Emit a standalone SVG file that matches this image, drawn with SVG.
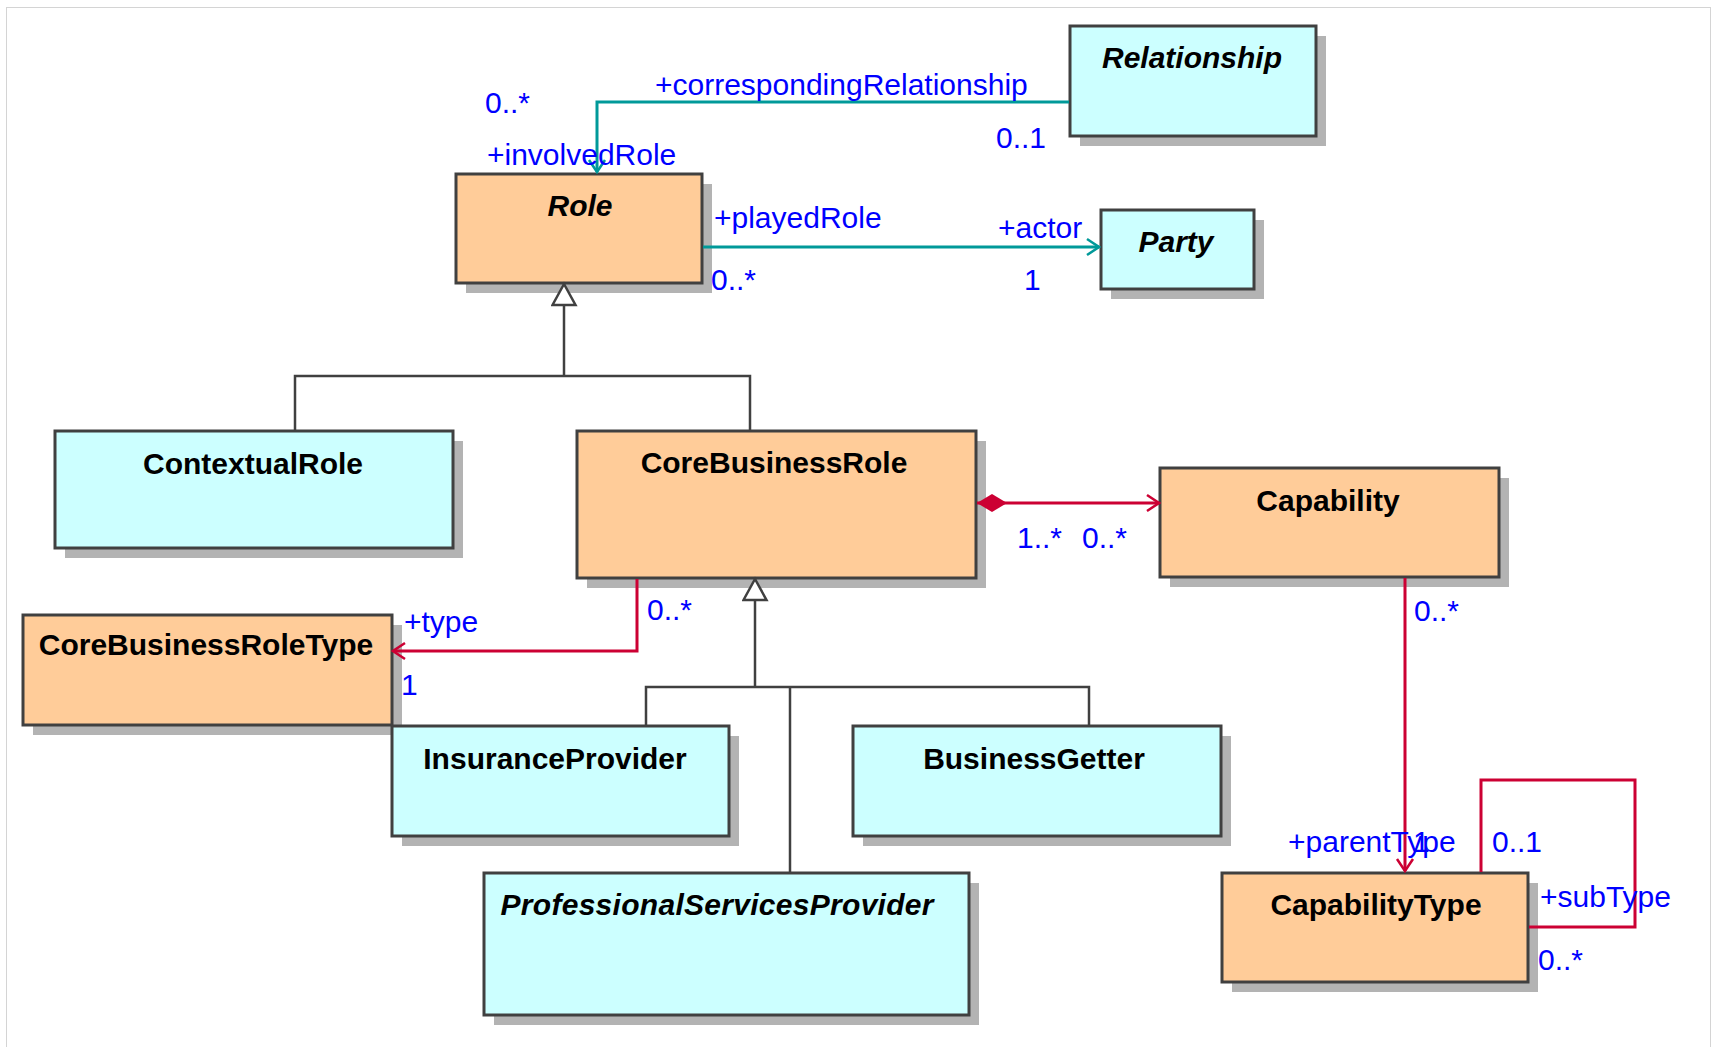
<svg xmlns="http://www.w3.org/2000/svg" width="1715" height="1047" viewBox="0 0 1715 1047">
  <style>
    .shadow { fill: #b3b3b3; }
    .box { stroke: #404040; stroke-width: 3; }
    .orange { fill: #ffcc99; }
    .cyan { fill: #ccffff; }
    .name { font-family: "Liberation Sans", Arial, sans-serif; font-size: 30px; font-weight: bold; fill: #000; text-anchor: middle; }
    .abstract { font-style: italic; }
    .lbl { font-family: "Liberation Sans", Arial, sans-serif; font-size: 30px; fill: #0000ff; }
    .teal { fill: none; stroke: #009999; stroke-width: 3; }
    .red { fill: none; stroke: #cc0033; stroke-width: 3; }
    .gen { fill: none; stroke: #404040; stroke-width: 2.5; }
  </style>
  <defs>
    <marker id="arrowTeal" viewBox="-2 -2 16 20" refX="12" refY="8" markerWidth="16" markerHeight="20" markerUnits="userSpaceOnUse" orient="auto">
      <path d="M0,0 L12,8 L0,16" fill="none" stroke="#009999" stroke-width="2.5"/>
    </marker>
    <marker id="arrowRed" viewBox="-2 -2 16 20" refX="12" refY="8" markerWidth="16" markerHeight="20" markerUnits="userSpaceOnUse" orient="auto">
      <path d="M0,0 L12,8 L0,16" fill="none" stroke="#cc0033" stroke-width="2.5"/>
    </marker>
    <marker id="diamond" viewBox="0 0 30 18" refX="0" refY="9" markerWidth="30" markerHeight="18" markerUnits="userSpaceOnUse" orient="auto">
      <path d="M0,9 L15,0 L30,9 L15,18 Z" fill="#cc0033"/>
    </marker>
    <marker id="genTri" viewBox="-2 -2 26 27" refX="21" refY="11.5" markerWidth="26" markerHeight="27" markerUnits="userSpaceOnUse" orient="auto">
      <path d="M0,0 L21,11.5 L0,23 Z" fill="#ffffff" stroke="#404040" stroke-width="2.5"/>
    </marker>
  </defs>

  <rect x="0" y="0" width="1715" height="1047" fill="#ffffff"/>
  <rect x="6.5" y="7.5" width="1704" height="1060" fill="none" stroke="#d4d4d4" stroke-width="1"/>

  <g id="Relationship">
    <rect class="shadow" x="1080" y="36" width="246" height="110"/>
    <rect class="box cyan" x="1070" y="26" width="246" height="110"/>
    <text class="name abstract" x="1192" y="68">Relationship</text>
  </g>
  <g id="Role">
    <rect class="shadow" x="466" y="184" width="246" height="109"/>
    <rect class="box orange" x="456" y="174" width="246" height="109"/>
    <text class="name abstract" x="580" y="216">Role</text>
  </g>
  <g id="Party">
    <rect class="shadow" x="1111" y="220" width="153" height="79"/>
    <rect class="box cyan" x="1101" y="210" width="153" height="79"/>
    <text class="name abstract" x="1176" y="252">Party</text>
  </g>
  <g id="ContextualRole">
    <rect class="shadow" x="65" y="441" width="398" height="117"/>
    <rect class="box cyan" x="55" y="431" width="398" height="117"/>
    <text class="name" x="253" y="474">ContextualRole</text>
  </g>
  <g id="CoreBusinessRole">
    <rect class="shadow" x="587" y="441" width="399" height="147"/>
    <rect class="box orange" x="577" y="431" width="399" height="147"/>
    <text class="name" x="774" y="473">CoreBusinessRole</text>
  </g>
  <g id="Capability">
    <rect class="shadow" x="1170" y="478" width="339" height="109"/>
    <rect class="box orange" x="1160" y="468" width="339" height="109"/>
    <text class="name" x="1328" y="511">Capability</text>
  </g>
  <g id="CoreBusinessRoleType">
    <rect class="shadow" x="33" y="625" width="369" height="110"/>
    <rect class="box orange" x="23" y="615" width="369" height="110"/>
    <text class="name" x="206" y="655">CoreBusinessRoleType</text>
  </g>
  <g id="InsuranceProvider">
    <rect class="shadow" x="402" y="736" width="337" height="110"/>
    <rect class="box cyan" x="392" y="726" width="337" height="110"/>
    <text class="name" x="555" y="769">InsuranceProvider</text>
  </g>
  <g id="BusinessGetter">
    <rect class="shadow" x="863" y="736" width="368" height="110"/>
    <rect class="box cyan" x="853" y="726" width="368" height="110"/>
    <text class="name" x="1034" y="769">BusinessGetter</text>
  </g>
  <g id="ProfessionalServicesProvider">
    <rect class="shadow" x="494" y="883" width="485" height="142"/>
    <rect class="box cyan" x="484" y="873" width="485" height="142"/>
    <text class="name abstract" x="717" y="915" textLength="433" lengthAdjust="spacing">ProfessionalServicesProvider</text>
  </g>
  <g id="CapabilityType">
    <rect class="shadow" x="1232" y="883" width="306" height="109"/>
    <rect class="box orange" x="1222" y="873" width="306" height="109"/>
    <text class="name" x="1376" y="915">CapabilityType</text>
  </g>

  <g id="connectors">
    <path class="teal" d="M1069,102 H597 V172" marker-end="url(#arrowTeal)"/>
    <path class="teal" d="M703,247 H1099" marker-end="url(#arrowTeal)"/>
    <path class="red" d="M977,503 H1159" marker-start="url(#diamond)" marker-end="url(#arrowRed)"/>
    <path class="red" d="M1405,578 V871" marker-end="url(#arrowRed)"/>
    <path class="red" d="M637,579 V651 H393" marker-end="url(#arrowRed)"/>
    <path class="red" d="M1481,872 V780 H1635 V927 H1529"/>
    <path class="gen" d="M295,430 V376 H750 V430"/>
    <path class="gen" d="M564,376 V284" marker-end="url(#genTri)"/>
    <path class="gen" d="M646,725 V687 H1089 V725"/>
    <path class="gen" d="M790,687 V872"/>
    <path class="gen" d="M755,687 V579" marker-end="url(#genTri)"/>

    <text class="lbl" x="655" y="95">+correspondingRelationship</text>
    <text class="lbl" x="996" y="148">0..1</text>
    <text class="lbl" x="485" y="113">0..*</text>
    <text class="lbl" x="487" y="165">+involvedRole</text>
    <text class="lbl" x="714" y="228">+playedRole</text>
    <text class="lbl" x="711" y="290">0..*</text>
    <text class="lbl" x="998" y="238">+actor</text>
    <text class="lbl" x="1024" y="290">1</text>
    <text class="lbl" x="1017" y="548">1..*</text>
    <text class="lbl" x="1082" y="548">0..*</text>
    <text class="lbl" x="404" y="632">+type</text>
    <text class="lbl" x="401" y="695">1</text>
    <text class="lbl" x="647" y="620">0..*</text>
    <text class="lbl" x="1414" y="621">0..*</text>
    <text class="lbl" x="1288" y="852">+parentType</text>
    <text class="lbl" x="1413" y="852">1</text>
    <text class="lbl" x="1492" y="852">0..1</text>
    <text class="lbl" x="1540" y="907">+subType</text>
    <text class="lbl" x="1538" y="970">0..*</text>
  </g>
</svg>
